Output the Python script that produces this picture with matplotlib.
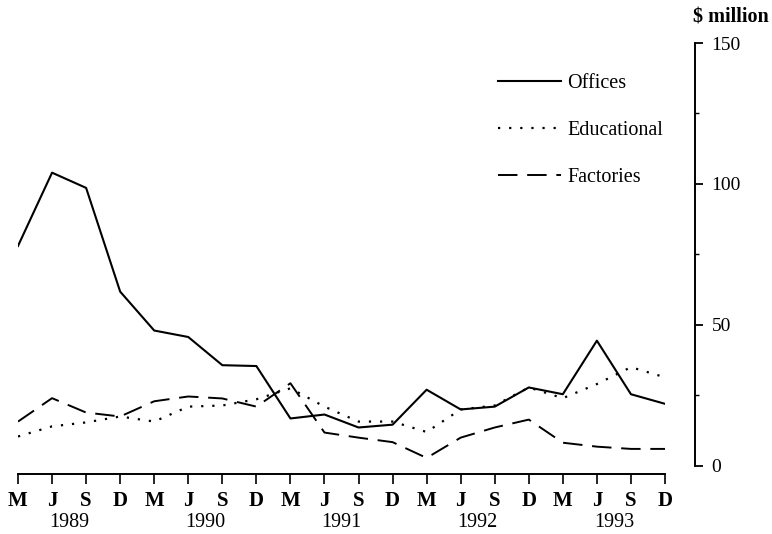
import numpy as np
import matplotlib.pyplot as plt

plt.rcParams['font.family'] = ['Liberation Serif', 'DejaVu Serif']

# quarterly, March 1989 .. December 1993
months = ['M', 'J', 'S', 'D'] * 5
years = ['1989', '1990', '1991', '1992', '1993']

offices = [78, 104, 98.6, 61.8, 48, 45.7, 35.7, 35.4, 16.8, 18.2,
           13.6, 14.6, 27, 20, 21, 27.8, 25.4, 44.4, 25.4, 22]
educational = [10.4, 14, 15.4, 17.5, 15.7, 21, 21.4, 23.6, 27.5, 21,
               15.7, 15.7, 12, 20, 21.4, 27.8, 24, 29, 35, 31.4]
factories = [15.7, 24, 18.9, 17.5, 22.9, 24.6, 23.9, 21, 29.3, 11.8,
             10, 8.4, 2.8, 10, 13.6, 16.4, 8.2, 6.8, 6, 6]

x = np.arange(len(months))

fig = plt.figure(figsize=(7.72, 5.34), dpi=100)
ax = fig.add_axes([18/772, 60/534, (665-18)/772, (474-43)/534])

ax.plot(x, offices, color='black', lw=1.5, label='Offices')
ax.plot(x, educational, color='black', lw=1.6, linestyle=(0, (1, 4)), label='Educational')
ax.plot(x, factories, color='black', lw=1.4, linestyle=(0, (10, 5)), label='Factories')

ax.set_xlim(0, 19)
ax.set_ylim(-2.9, 150)

# spines
ax.spines['top'].set_visible(False)
ax.spines['left'].set_visible(False)
ax.spines['right'].set_position(('axes', (695-18)/(665-18)))
ax.spines['right'].set_bounds(0, 150)
ax.spines['right'].set_linewidth(1.4)
ax.spines['bottom'].set_linewidth(1.4)

# y axis on the right
ax.yaxis.tick_right()
ax.set_yticks([0, 50, 100, 150])
ax.set_yticks([25, 75, 125], minor=True)
ax.tick_params(axis='y', which='major', direction='out', length=6, width=1.3,
               pad=6, labelsize=14)
ax.tick_params(axis='y', which='minor', direction='out', length=3, width=1.0)

# x axis: month letters and year labels
ax.set_xticks(x)
ax.set_xticklabels(months, fontweight='bold')
ax.set_xticks(np.arange(len(years)) * 4 + 1.5, minor=True)
ax.set_xticklabels(years, minor=True)
ax.tick_params(axis='x', which='major', direction='out', length=7, width=1.2,
               pad=5, labelsize=15)
ax.tick_params(axis='x', which='minor', length=0, pad=28, labelsize=14.5)

fig.text(731/772, 1 - 18/534, r'\$ million', ha='center', va='center',
         fontsize=14.5, fontweight='bold')

ax.legend(loc='upper left', bbox_to_anchor=((480-18)/647, 1 - (56-43)/431),
          frameon=False, handlelength=3.1, handletextpad=0.35,
          labelspacing=1.38, fontsize=14.5)

fig.savefig('out.png', dpi=100)
